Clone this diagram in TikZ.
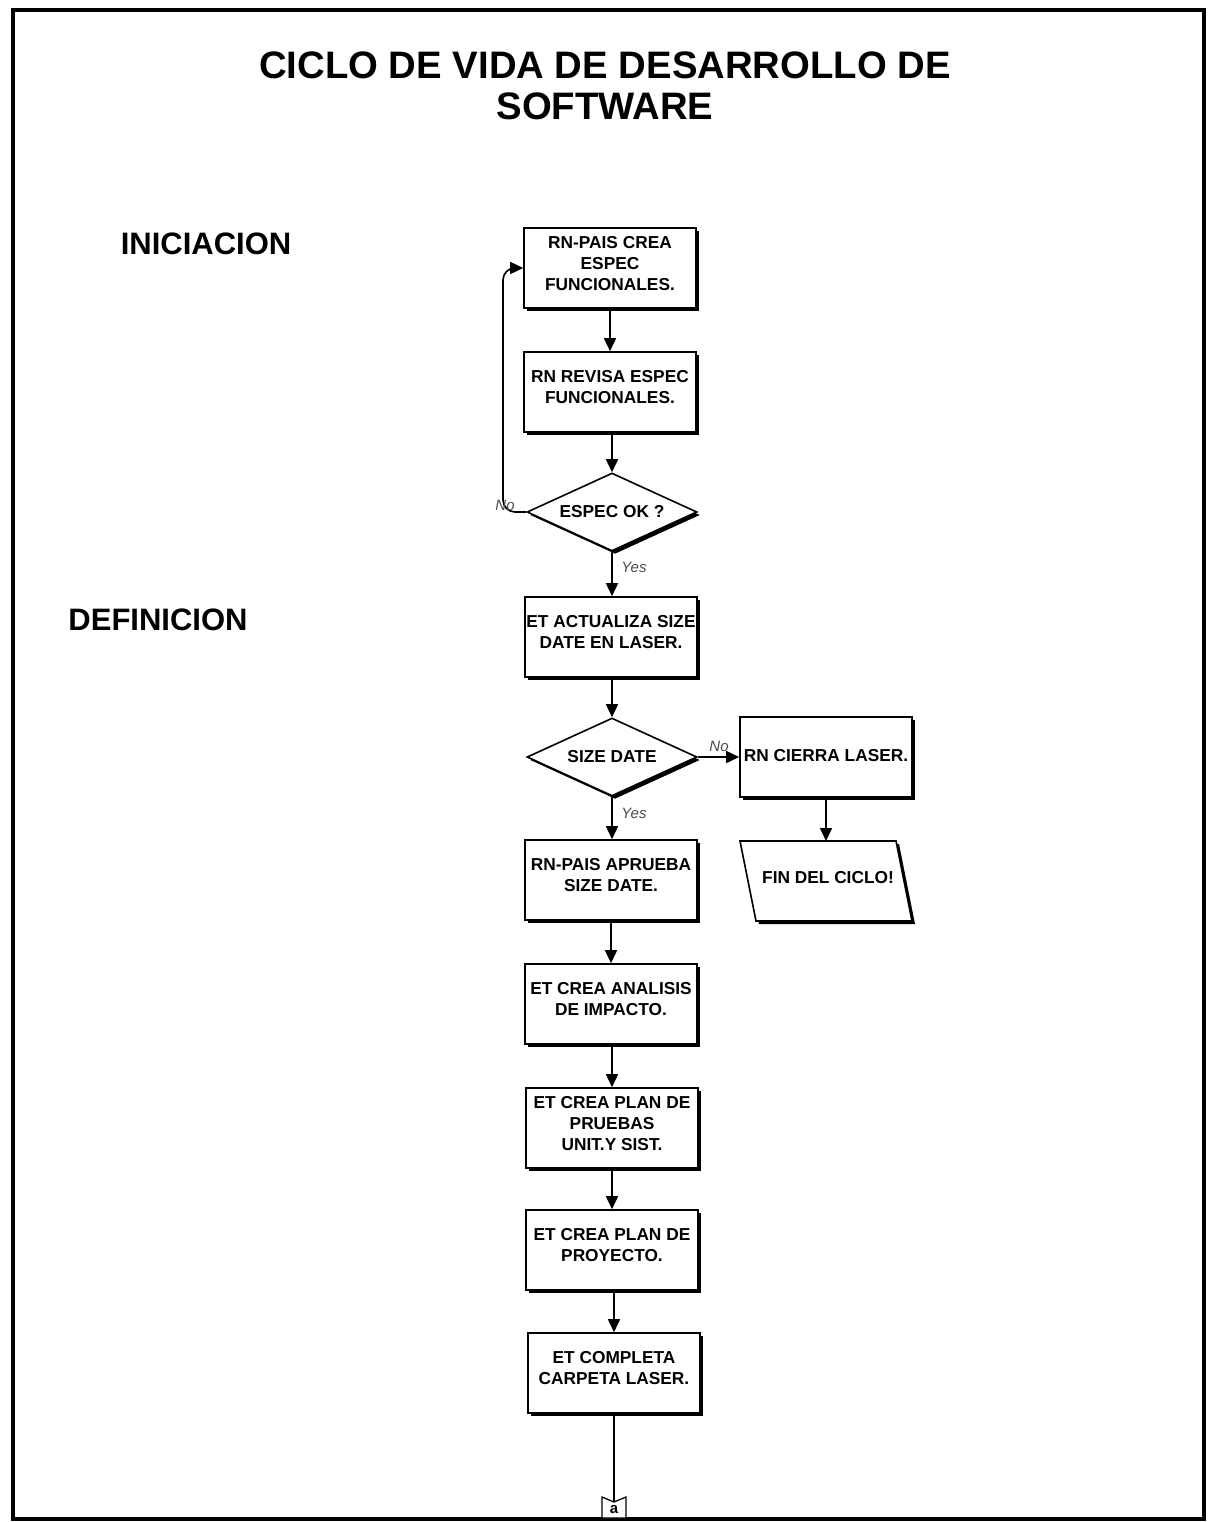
\documentclass[tikz,border=0pt]{standalone}
\usepackage{fontspec}
\setmainfont{Liberation Sans}
\usetikzlibrary{arrows.meta,shapes.geometric,shadows,calc}

\begin{document}
\begin{tikzpicture}[x=1pt,y=-1pt,
  solidshadow/.style={drop shadow={shadow xshift=3pt,shadow yshift=-3pt,opacity=1,fill=black}},
  boxfont/.style={font=\fontsize{17.3}{21}\selectfont\bfseries},
  procbox/.style={draw,line width=1.6pt,fill=white,solidshadow,minimum width=172pt,minimum height=80pt,
    inner sep=0pt,align=center,boxfont,text depth=10pt},
  decision/.style={draw,line width=1.6pt,fill=white,solidshadow,diamond,aspect=2.18,
    minimum width=170pt,minimum height=78pt,inner sep=0pt,boxfont},
  flow/.style={line width=1.6pt,-{Triangle[length=13pt,width=12pt]}},
  branch/.style={font=\fontsize{15}{17}\selectfont\itshape,text=black!70,inner sep=1pt},
  phase/.style={font=\fontsize{31}{36}\selectfont\bfseries,inner sep=0pt}
]
\useasboundingbox (0,0) rectangle (1212,1522);
\fill[white] (0,0) rectangle (1212,1522);
\draw[line width=4pt] (13,10) rectangle (1204,1519);

% heading and phase labels
\node[align=center,font=\fontsize{38.3}{41}\selectfont\bfseries] (title) at (605,86)
  {CICLO DE VIDA DE DESARROLLO DE\\SOFTWARE};
\node[phase] (ini) at (206,244) {INICIACION};
\node[phase] (def) at (158,620) {DEFINICION};

% main column
\node[procbox] (b1) at (610,268) {RN-PAIS CREA\\ESPEC\\FUNCIONALES.};
\node[procbox] (b2) at (610,392) {RN REVISA ESPEC\\FUNCIONALES.};
\node[decision] (d1) at (612,512) {ESPEC OK ?};
\node[procbox] (b3) at (611,637) {ET ACTUALIZA SIZE\\DATE EN LASER.};
\node[decision] (d2) at (612,757) {SIZE DATE};
\node[procbox] (b4) at (611,880) {RN-PAIS APRUEBA\\SIZE DATE.};
\node[procbox] (b5) at (611,1004) {ET CREA ANALISIS\\DE IMPACTO.};
\node[procbox] (b6) at (612,1128) {ET CREA PLAN DE\\PRUEBAS\\UNIT.Y SIST.};
\node[procbox] (b7) at (612,1250) {ET CREA PLAN DE\\PROYECTO.};
\node[procbox] (b8) at (614,1373) {ET COMPLETA\\CARPETA LASER.};

% exit branch
\node[procbox,text depth=4pt] (b9) at (826,757) {RN CIERRA LASER.};
\fill[black] (743,844) -- (899,844) -- (915,924) -- (759,924) -- cycle;
\draw[line width=1.6pt,fill=white] (740,841) -- (896,841) -- (912,921) -- (756,921) -- cycle;
\coordinate (fintop) at (826,841);
\node[boxfont] (fintext) at (828,878) {FIN DEL CICLO!};

% off-page connector
\coordinate (anotch) at (614,1502);
\draw[line width=1.3pt,fill=white] (602,1497) -- (anotch) -- (626,1497) -- (626,1518) -- (602,1518) -- cycle;
\node[inner sep=0pt,font=\fontsize{15}{17}\selectfont\bfseries] (acon) at (614,1510) {a};

% connectors
\draw[flow] (b1) -- (b2);
\draw[flow] (b2.south) -- (b2.south -| d1.north) -- (d1.north);
\draw[flow] (d1.south) -- (d1.south |- b3.north);
\draw[flow] (b3.south) -- (b3.south -| d2.north) -- (d2.north);
\draw[flow] (d2.south) -- (d2.south |- b4.north);
\draw[flow] (b4) -- (b5);
\draw[flow] (b5.south) -- (b5.south -| b6.north) -- (b6.north);
\draw[flow] (b6) -- (b7);
\draw[flow] (b7.south) -- (b7.south -| b8.north) -- (b8.north);
\draw[line width=1.6pt] (b8.south) -- (anotch);
\draw[flow] (d2.east) -- (b9.west);
\draw[flow] (b9.south) -- (fintop);
\coordinate (loopx) at (503,390);
\draw[flow,rounded corners=12pt] (d1.west) -| (loopx) |- (b1.west);

% branch labels
\node[branch] (no1) at (505,505) {No};
\node[branch] (yes1) at (634,567) {Yes};
\node[branch] (no2) at (719,746) {No};
\node[branch] (yes2) at (634,813) {Yes};
\end{tikzpicture}
\end{document}
